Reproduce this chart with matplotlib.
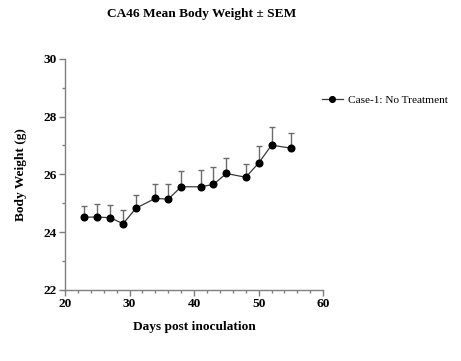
import numpy as np
import matplotlib.pyplot as plt

# Data
days = [23, 25, 27, 29, 31, 34, 36, 38, 41, 43, 45, 48, 50, 52, 55]
mean_bw = [24.52, 24.52, 24.50, 24.29, 24.83, 25.17, 25.14, 25.57,
           25.57, 25.65, 26.03, 25.90, 26.39, 27.01, 26.91]
sem_bw = [0.37, 0.44, 0.44, 0.49, 0.44, 0.50, 0.53, 0.53,
          0.59, 0.62, 0.52, 0.46, 0.59, 0.64, 0.52]
label = "Case-1: No Treatment"

plt.rcParams["font.family"] = ["Liberation Serif", "DejaVu Serif"]
plt.rcParams["font.size"] = 9.6

fig = plt.figure(figsize=(4.61, 3.61), dpi=100)
ax = fig.add_axes([0.141, 0.197, 0.560, 0.640])

lower = np.zeros(len(sem_bw))
ax.errorbar(days, mean_bw, yerr=[lower, sem_bw], fmt="none",
            ecolor="#6b6b6b", elinewidth=1.0, capsize=2.5, capthick=1.0, zorder=2)
ax.plot(days, mean_bw, color="#3a3a3a", linewidth=0.9, marker="o",
        markersize=4.8, markerfacecolor="black", markeredgecolor="black",
        label=label, zorder=3)

ax.set_xlim(20, 60)
ax.set_ylim(22, 30)
ax.set_xticks([20, 30, 40, 50, 60])
ax.set_xticks(np.arange(22, 60, 2), minor=True)
ax.set_yticks([22, 24, 26, 28, 30])
ax.set_yticks([23, 25, 27, 29], minor=True)

for side in ["top", "right"]:
    ax.spines[side].set_visible(False)
for side in ["left", "bottom"]:
    ax.spines[side].set_color("#7f7f7f")
    ax.spines[side].set_linewidth(1.0)
ax.tick_params(which="major", direction="out", length=4, width=1.0, color="#7f7f7f", pad=2)
ax.tick_params(which="minor", direction="out", length=2.5, width=1.0, color="#7f7f7f")
for t in ax.get_xticklabels() + ax.get_yticklabels():
    t.set_fontweight("bold")

ax.set_xlabel("Days post inoculation", fontweight="bold", labelpad=8)
ax.set_ylabel("Body Weight (g)", fontweight="bold", labelpad=12)
fig.text(0.438, 0.96, "CA46 Mean Body Weight \u00b1 SEM", ha="center", va="center",
         fontweight="bold")

ax.legend(loc="center left", bbox_to_anchor=(0.955, 0.82), frameon=False,
          handlelength=1.9, handletextpad=0.45, fontsize=8.1, markerscale=0.85)

fig.savefig("out.png", dpi=100)
